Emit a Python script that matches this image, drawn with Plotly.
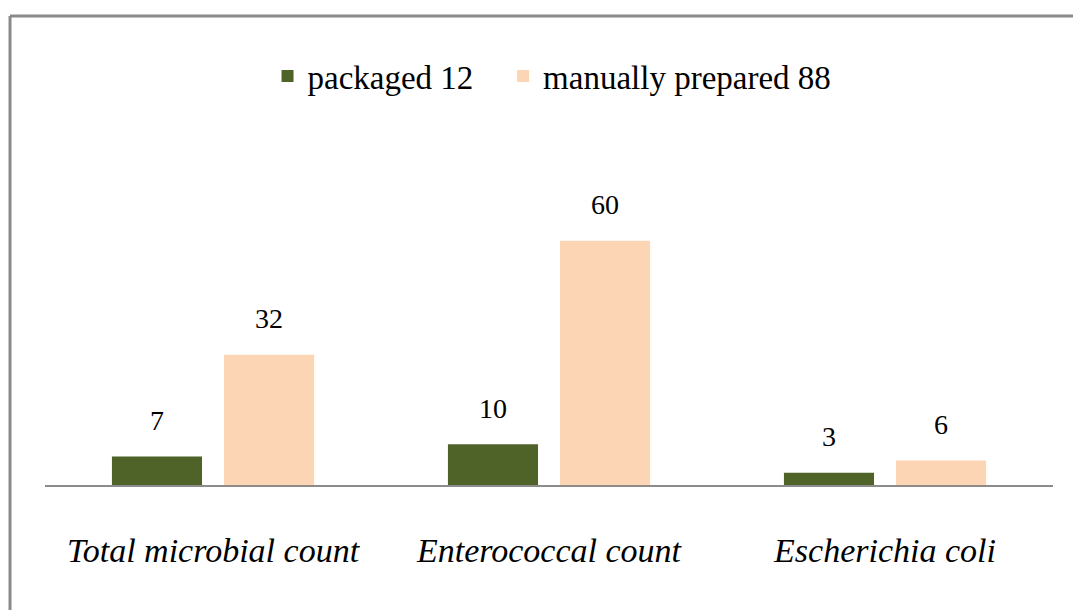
import plotly.graph_objects as go

categories = ["Total microbial count", "Enterococcal count", "Escherichia coli"]
packaged = [7, 10, 3]
manual = [32, 60, 6]
series_names = ["packaged 12\u00a0\u00a0\u00a0", "manually prepared 88"]
colors = ["#4F6228", "#FCD5B5"]

fig = go.Figure()
for name, vals, col, grp in [(series_names[0], packaged, colors[0], "p"),
                             (series_names[1], manual, colors[1], "m")]:
    fig.add_trace(go.Bar(x=categories, y=vals, name=name, marker_color=col,
                         marker_line_width=0, offsetgroup=grp))
for vals, grp in [(packaged, "p"), (manual, "m")]:
    fig.add_trace(go.Scatter(x=categories, y=vals, mode="markers+text",
                             text=[str(v) for v in vals], textposition="top center",
                             marker=dict(size=30, opacity=0), offsetgroup=grp,
                             textfont=dict(family="Liberation Serif", size=28, color="#000"),
                             showlegend=False, hoverinfo="skip", cliponaxis=False))

serif = "Liberation Serif"
fig.update_layout(
    width=1073, height=610,
    margin=dict(l=45, r=20, t=200, b=125),
    paper_bgcolor="white", plot_bgcolor="white",
    barmode="group", bargap=0.333, bargroupgap=0.196,
    scattermode="group", scattergap=0.333,
    legend=dict(orientation="h", x=0.503, xanchor="center", y=1.435, yanchor="middle",
                font=dict(family=serif, size=33, color="#000"),
                bgcolor="rgba(0,0,0,0)"),
    xaxis=dict(showline=True, linecolor="#8c8c8c", linewidth=1.5, ticks="",
               showgrid=False, ticklabelstandoff=34,
               tickfont=dict(family=serif, size=34, color="#000", style="italic")),
    yaxis=dict(range=[0, 70], visible=False, showgrid=False, zeroline=False),
    shapes=[
        dict(type="line", xref="paper", yref="paper", x0=-0.0347, x1=1.02,
             y0=1.6456, y1=1.6456, line=dict(color="#8a8a8a", width=3)),
        dict(type="line", xref="paper", yref="paper", x0=-0.0347, x1=-0.0347,
             y0=1.6456, y1=-0.44, line=dict(color="#8a8a8a", width=3)),
    ],
)
fig.write_html("out.html", config={"displayModeBar": False},
               post_script="document.body.style.margin='0';")
